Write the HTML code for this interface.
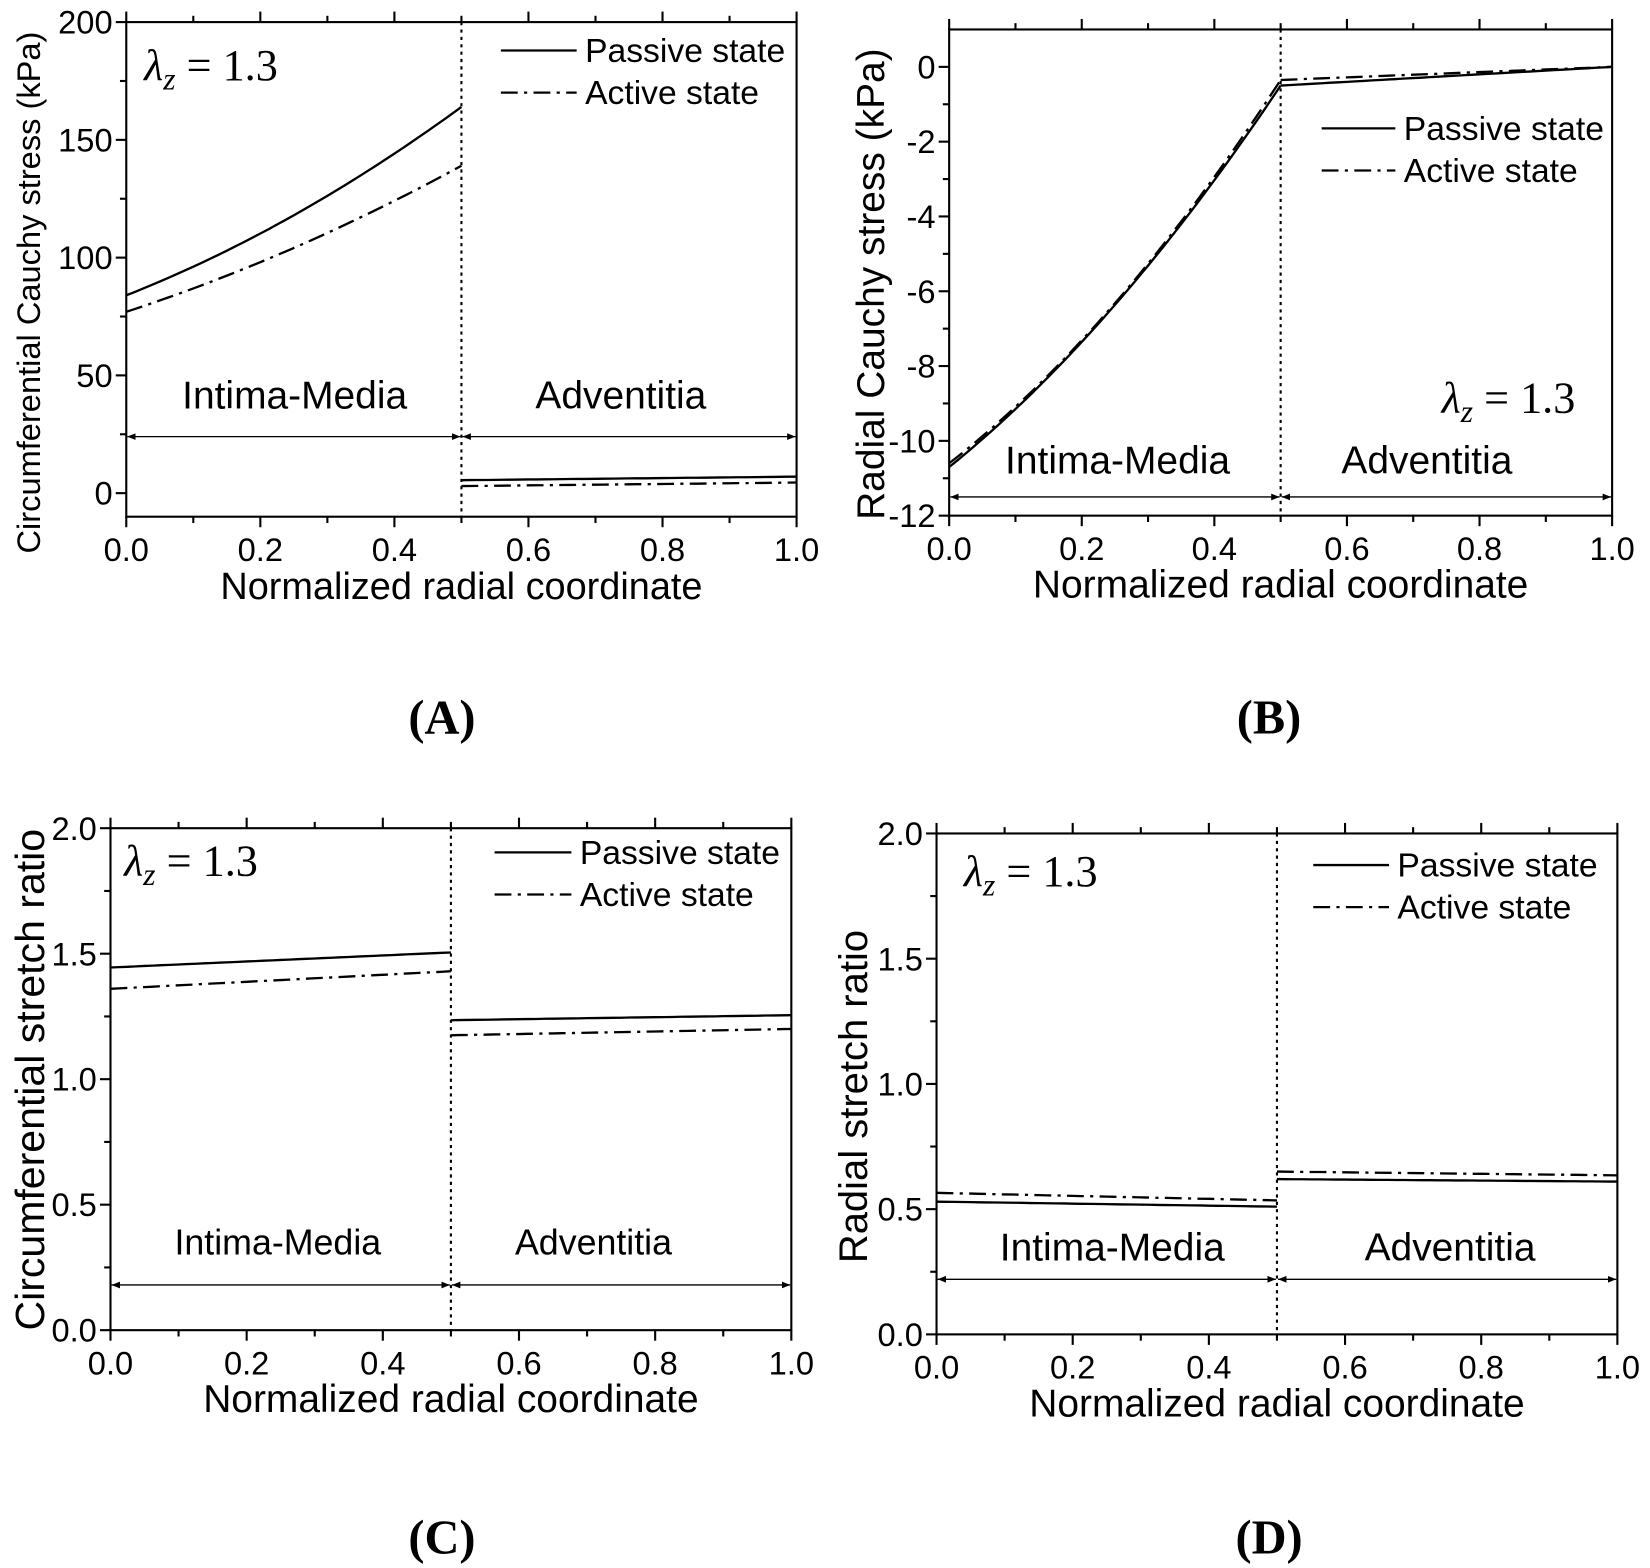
<!DOCTYPE html>
<html><head><meta charset="utf-8"><style>
html,body{margin:0;padding:0;background:#fff;}
svg{display:block;}
text{font-family:"Liberation Sans",sans-serif;fill:#000;}
</style></head><body>
<svg id="s" width="1650" height="1568" viewBox="0 0 1568 1490" preserveAspectRatio="none" xmlns="http://www.w3.org/2000/svg">
<defs>
<marker id="ar" viewBox="0 0 10 10" refX="10" refY="5" markerWidth="8" markerHeight="8" orient="auto-start-reverse" markerUnits="userSpaceOnUse"><path d="M0,1 L10,5 L0,9 z" fill="#000"/></marker>
</defs>
<g id="g"></g>
<text x="420" y="697" text-anchor="middle" style="font-family:'Liberation Serif',serif;font-weight:bold;font-size:46px">(A)</text>
<text x="1206" y="697" text-anchor="middle" style="font-family:'Liberation Serif',serif;font-weight:bold;font-size:46px">(B)</text>
<text x="420" y="1476" text-anchor="middle" style="font-family:'Liberation Serif',serif;font-weight:bold;font-size:46px">(C)</text>
<text x="1206" y="1476" text-anchor="middle" style="font-family:'Liberation Serif',serif;font-weight:bold;font-size:46px">(D)</text>
</svg>
<script>
var out='';
function L(x1,y1,x2,y2,extra){out+='<line x1="'+x1+'" y1="'+y1+'" x2="'+x2+'" y2="'+y2+'" stroke="#000" '+(extra||'stroke-width="2"')+'/>';}
function T(x,y,s,size,anchor,extra){out+='<text x="'+x+'" y="'+y+'" font-size="'+size+'" text-anchor="'+(anchor||'start')+'" '+(extra||'')+'>'+s+'</text>';}
function panel(c){
  var X=function(v){return c.x0+(c.x1-c.x0)*v;};
  var Y=function(v){return c.yb+(c.yt-c.yb)*(v-c.ymin)/(c.ymax-c.ymin);};
  var top=Y(c.ymax), bot=Y(c.ymin);
  out+='<rect x="'+c.x0+'" y="'+top+'" width="'+(c.x1-c.x0)+'" height="'+(bot-top)+'" fill="none" stroke="#000" stroke-width="2"/>';
  for(var i=0;i<=10;i++){var x=X(i/10);var len=i%2==0?10:6;L(x,bot,x,bot+len);L(x,top,x,top-len);
    if(i%2==0)T(x,bot+42,(i/10).toFixed(1),31,'middle');}
  for(var k=0;k<c.yticks.length;k++){var v=c.yticks[k],y=Y(v);L(c.x0-10,y,c.x0,y);T(c.x0-13,y+11,c.ylab[k],31,'end');
    if(k<c.yticks.length-1){var ym=Y((v+c.yticks[k+1])/2);L(c.x0-6,ym,c.x0,ym);}}
  L(X(0.5),top,X(0.5),bot,'stroke-width="2" stroke-dasharray="3,4"');
  var ay=Y(c.arrow);
  L(X(0)+1,ay,X(0.5)-1,ay,'stroke-width="1.3" marker-start="url(#ar)" marker-end="url(#ar)"');
  L(X(0.5)+1,ay,X(1)-1,ay,'stroke-width="1.3" marker-start="url(#ar)" marker-end="url(#ar)"');
  T(c.im[0],c.im[1],'Intima-Media',c.rs,'middle');T(c.ad[0],c.ad[1],'Adventitia',c.rs,'middle');
  function curve(f,a,b,dash){var p='';for(var i=0;i<=40;i++){var t=a+(b-a)*i/40;p+=(i?'L':'M')+X(t).toFixed(1)+','+Y(f(t)).toFixed(1);}
    out+='<path d="'+p+'" fill="none" stroke="#000" stroke-width="2.2" '+(dash?'stroke-dasharray="16,6,3,6"':'')+'/>';}
  c.curves.forEach(function(q){curve(q[0],q[1],q[2],q[3]);});
  var lg=c.leg;L(lg[0],lg[2],lg[1],lg[2],'stroke-width="2.2"');T(lg[1]+8,lg[2]+11,'Passive state',32);
  L(lg[0],lg[2]+40,lg[1],lg[2]+40,'stroke-width="2.2" stroke-dasharray="16,6,3,6"');T(lg[1]+8,lg[2]+51,'Active state',32);
  out+='<text x="'+c.lam[0]+'" y="'+c.lam[1]+'" font-size="42" style="font-family:\'Liberation Serif\',serif"><tspan font-style="italic">λ</tspan><tspan font-style="italic" font-size="30" dy="9">z</tspan><tspan dy="-9"> = 1.3</tspan></text>';
  T((c.x0+c.x1)/2,bot+78,'Normalized radial coordinate',c.xls,'middle');
  out+='<text x="0" y="0" font-size="'+c.yls+'" text-anchor="middle" transform="translate('+c.ylx+','+c.yly+') rotate(-90)">'+c.ytitle+'</text>';
}
function lin(a,b,t0,t1){return function(t){return a+(b-a)*(t-t0)/(t1-t0);};}
function quad(a,b,k){return function(t){var u=t/0.5;return a+(b-a)*(u*(1-k)+k*u*u);};}
panel({x0:120,x1:757,yb:491,yt:21,ymin:-10,ymax:200,yticks:[0,50,100,150,200],ylab:['0','50','100','150','200'],
 arrow:24,im:[280,388],ad:[590,388],rs:37,leg:[476,548,48],lam:[137,76],xls:36,
 ytitle:'Circumferential Cauchy stress (kPa)',ylx:38,yly:278,yls:31,
 curves:[[quad(84,164,0.3),0,0.5],[quad(77,139,0.25),0,0.5,1],[lin(5.5,7,0.5,1),0.5,1],[lin(3,4.5,0.5,1),0.5,1,1]]});
panel({x0:902,x1:1532,yb:490,yt:28,ymin:-12,ymax:1,yticks:[-12,-10,-8,-6,-4,-2,0],ylab:['-12','-10','-8','-6','-4','-2','0'],
 arrow:-11.5,im:[1062,450],ad:[1356,450],rs:37,leg:[1256,1326,122],lam:[1370,392],xls:37,
 ytitle:'Radial Cauchy stress (kPa)',ylx:840,yly:270,yls:37,
 curves:[[quad(-10.7,-0.5,0.3),0,0.5],[quad(-10.6,-0.35,0.33),0,0.5,1],[lin(-0.5,0,0.5,1),0.5,1],[lin(-0.35,0,0.5,1),0.5,1,1]]});
panel({x0:105,x1:752,yb:1264,yt:787,ymin:0,ymax:2,yticks:[0,0.5,1,1.5,2],ylab:['0.0','0.5','1.0','1.5','2.0'],
 arrow:0.18,im:[264,1192],ad:[564,1192],rs:34,leg:[470,543,810],lam:[118,832],xls:37,
 ytitle:'Circumferential stretch ratio',ylx:42,yly:1026,yls:39,
 curves:[[lin(1.445,1.505,0,0.5),0,0.5],[lin(1.36,1.43,0,0.5),0,0.5,1],[lin(1.235,1.255,0.5,1),0.5,1],[lin(1.175,1.2,0.5,1),0.5,1,1]]});
panel({x0:890,x1:1537,yb:1268,yt:792,ymin:0,ymax:2,yticks:[0,0.5,1,1.5,2],ylab:['0.0','0.5','1.0','1.5','2.0'],
 arrow:0.22,im:[1057,1198],ad:[1378,1198],rs:37,leg:[1248,1320,822],lam:[916,842],xls:37,
 ytitle:'Radial stretch ratio',ylx:824,yly:1042,yls:38,
 curves:[[lin(0.53,0.51,0,0.5),0,0.5],[lin(0.565,0.535,0,0.5),0,0.5,1],[lin(0.62,0.61,0.5,1),0.5,1],[lin(0.65,0.635,0.5,1),0.5,1,1]]});
document.getElementById('g').innerHTML=out;
</script>
</body></html>
